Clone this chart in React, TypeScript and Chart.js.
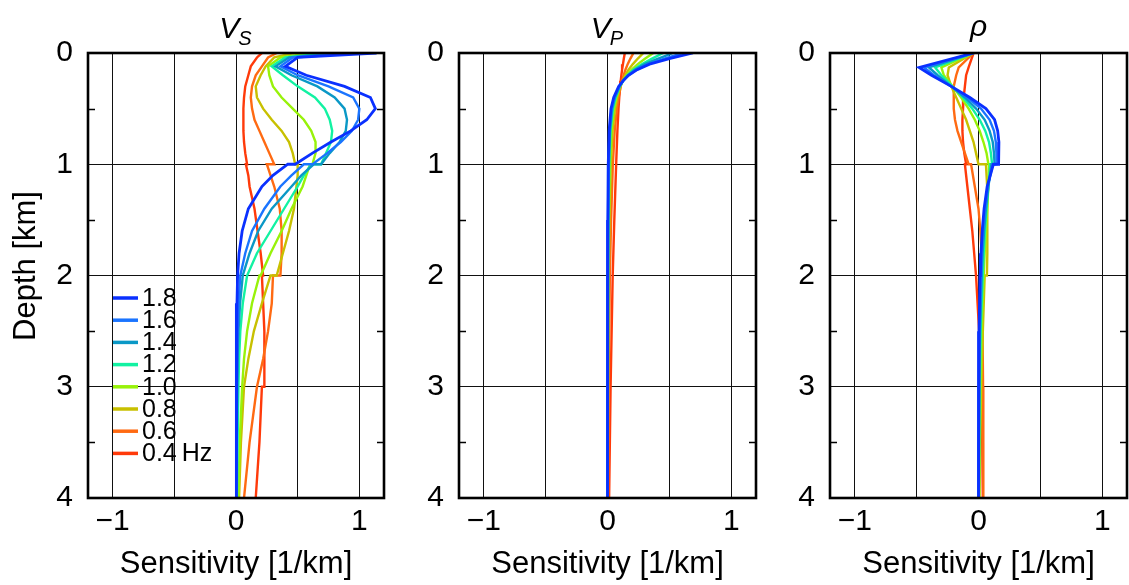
import React, { useEffect, useRef } from 'react';
import { Chart, registerables } from 'chart.js';

Chart.register(...registerables);

const FONT = "'Liberation Sans', Arial, Helvetica, sans-serif";

// ---- legend / series meta ----
const freqLabels = ['1.8', '1.6', '1.4', '1.2', '1.0', '0.8', '0.6', '0.4\u2009Hz'];
const freqColors = ['#0a30ff', '#1a74ff', '#0a98c6', '#12f2a2', '#98f20a', '#c8c000', '#ff6a12', '#ff3a0a'];

// ---- tick values / labels ----
const xTickValues = [-1, -0.5, 0, 0.5, 1];
const xTickLabels = ['\u22121', '', '0', '', '1'];
const yTickValues = [0, 0.5, 1, 1.5, 2, 2.5, 3, 3.5, 4];
const yTickLabels = ['0', '', '1', '', '2', '', '3', '', '4'];

// ---- V_S kernels ----
const vsDepth = [0, 0.04, 0.12, 0.2, 0.3, 0.4, 0.5, 0.6, 0.7, 0.8, 0.9, 1.0, 1.0, 1.1, 1.2, 1.4, 1.6, 1.8, 2.0, 2.0, 2.25, 2.5, 2.75, 3.0, 3.0, 3.5, 4.0];
const vs18 = [1.14, 0.5, 0.4, 0.57, 0.88, 1.09, 1.13, 1.06, 0.93, 0.77, 0.62, 0.48, 0.42, 0.3, 0.21, 0.1, 0.05, 0.025, 0.013, 0.012, 0.008, 0.005, 0.004, 0.003, 0.003, 0.002, 0.001];
const vs16 = [1.0, 0.46, 0.36, 0.5, 0.75, 0.95, 1.0, 0.99, 0.94, 0.85, 0.74, 0.62, 0.55, 0.45, 0.36, 0.23, 0.13, 0.075, 0.035, 0.035, 0.02, 0.012, 0.008, 0.006, 0.006, 0.004, 0.003];
const vs14 = [0.87, 0.43, 0.32, 0.45, 0.66, 0.8, 0.88, 0.9, 0.89, 0.84, 0.76, 0.69, 0.63, 0.53, 0.45, 0.29, 0.18, 0.11, 0.055, 0.055, 0.033, 0.02, 0.013, 0.009, 0.009, 0.006, 0.004];
const vs12 = [0.74, 0.4, 0.29, 0.38, 0.5, 0.64, 0.72, 0.76, 0.78, 0.77, 0.73, 0.69, 0.61, 0.55, 0.5, 0.39, 0.28, 0.17, 0.09, 0.09, 0.055, 0.035, 0.025, 0.02, 0.02, 0.013, 0.008];
const vs10 = [0.61, 0.36, 0.26, 0.27, 0.3, 0.37, 0.46, 0.55, 0.61, 0.645, 0.645, 0.62, 0.6, 0.57, 0.54, 0.45, 0.37, 0.28, 0.2, 0.19, 0.13, 0.09, 0.065, 0.05, 0.05, 0.03, 0.02];
const vs08 = [0.47, 0.31, 0.24, 0.2, 0.16, 0.17, 0.22, 0.29, 0.37, 0.43, 0.46, 0.48, 0.5, 0.5, 0.49, 0.47, 0.43, 0.38, 0.33, 0.28, 0.21, 0.145, 0.1, 0.065, 0.065, 0.04, 0.025];
const vs06 = [0.33, 0.26, 0.21, 0.16, 0.13, 0.12, 0.13, 0.15, 0.19, 0.23, 0.27, 0.31, 0.25, 0.28, 0.31, 0.355, 0.37, 0.37, 0.36, 0.3, 0.29, 0.26, 0.22, 0.17, 0.17, 0.11, 0.065];
const vs04 = [0.21, 0.17, 0.12, 0.1, 0.075, 0.065, 0.06, 0.06, 0.06, 0.065, 0.075, 0.09, 0.08, 0.1, 0.11, 0.15, 0.175, 0.2, 0.22, 0.21, 0.22, 0.23, 0.23, 0.23, 0.21, 0.19, 0.16];

// ---- V_P kernels ----
const vpDepth = [0, 0.05, 0.1, 0.15, 0.2, 0.25, 0.3, 0.4, 0.5, 0.7, 1.0, 1.5, 2.0, 3.0, 4.0];
const vp18 = [0.69, 0.5, 0.34, 0.24, 0.17, 0.125, 0.09, 0.05, 0.028, 0.013, 0.006, 0.003, 0.001, 0, 0];
const vp16 = [0.61, 0.46, 0.33, 0.235, 0.17, 0.127, 0.095, 0.055, 0.033, 0.016, 0.008, 0.004, 0.002, 0.001, 0];
const vp14 = [0.53, 0.41, 0.3, 0.22, 0.165, 0.127, 0.098, 0.06, 0.038, 0.02, 0.011, 0.005, 0.003, 0.001, 0];
const vp12 = [0.45, 0.36, 0.28, 0.21, 0.16, 0.126, 0.1, 0.066, 0.044, 0.024, 0.014, 0.007, 0.004, 0.002, 0.001];
const vp10 = [0.37, 0.305, 0.245, 0.195, 0.155, 0.125, 0.1, 0.071, 0.051, 0.031, 0.019, 0.01, 0.006, 0.003, 0.001];
const vp08 = [0.29, 0.245, 0.205, 0.17, 0.143, 0.122, 0.104, 0.079, 0.061, 0.041, 0.027, 0.016, 0.01, 0.005, 0.002];
const vp06 = [0.21, 0.185, 0.163, 0.145, 0.13, 0.118, 0.107, 0.089, 0.076, 0.058, 0.043, 0.029, 0.019, 0.01, 0.005];
const vp04 = [0.14, 0.132, 0.125, 0.118, 0.112, 0.107, 0.103, 0.095, 0.089, 0.08, 0.07, 0.055, 0.042, 0.025, 0.013];

// ---- rho kernels ----
const rhoDepth = [0, 0.13, 0.2, 0.3, 0.4, 0.5, 0.6, 0.7, 0.8, 0.9, 1.0, 1.0, 1.2, 1.4, 1.6, 1.8, 2.0, 2.0, 2.5, 3.0, 3.5, 4.0];
const rho18 = [-0.04, -0.48, -0.38, -0.22, -0.07, 0.06, 0.13, 0.155, 0.165, 0.165, 0.16, 0.12, 0.07, 0.045, 0.03, 0.02, 0.015, 0.012, 0.004, 0.0, 0.0, 0.0];
const rho16 = [-0.04, -0.44, -0.36, -0.22, -0.09, 0.02, 0.09, 0.125, 0.14, 0.145, 0.145, 0.115, 0.075, 0.05, 0.035, 0.025, 0.02, 0.017, 0.008, 0.003, 0.001, 0.0];
const rho14 = [-0.04, -0.4, -0.33, -0.22, -0.11, -0.02, 0.05, 0.09, 0.115, 0.125, 0.13, 0.105, 0.08, 0.06, 0.045, 0.033, 0.026, 0.022, 0.012, 0.006, 0.003, 0.001];
const rho12 = [-0.04, -0.35, -0.3, -0.21, -0.125, -0.05, 0.01, 0.055, 0.085, 0.1, 0.11, 0.095, 0.08, 0.065, 0.052, 0.042, 0.034, 0.03, 0.017, 0.01, 0.006, 0.003];
const rho10 = [-0.04, -0.3, -0.28, -0.21, -0.14, -0.08, -0.03, 0.01, 0.04, 0.065, 0.08, 0.085, 0.08, 0.07, 0.06, 0.05, 0.042, 0.038, 0.024, 0.015, 0.009, 0.005];
const rho08 = [-0.04, -0.24, -0.25, -0.22, -0.18, -0.14, -0.1, -0.07, -0.04, -0.02, 0.0, 0.06, 0.07, 0.072, 0.072, 0.07, 0.068, 0.05, 0.035, 0.022, 0.014, 0.008];
const rho06 = [-0.04, -0.16, -0.18, -0.2, -0.2, -0.2, -0.19, -0.17, -0.14, -0.11, -0.08, -0.06, -0.03, 0.0, 0.015, 0.025, 0.03, 0.03, 0.035, 0.037, 0.038, 0.04];
const rho04 = [-0.04, -0.08, -0.1, -0.11, -0.12, -0.125, -0.13, -0.13, -0.125, -0.115, -0.1, -0.11, -0.09, -0.07, -0.05, -0.035, -0.02, -0.015, 0.005, 0.02, 0.03, 0.035];

const xTitle = 'Sensitivity [1/km]';
const yTitle = 'Depth [km]';

type PanelSpec = {
  key: string;
  left: number;
  width: number;
  yAxisWidth: number;
  padRight: number;
  title: [string, string];
  depth: number[];
  series: number[][];
  first: boolean;
};

const panels: PanelSpec[] = [
  { key: 'vs', left: 0, width: 410, yAxisWidth: 88, padRight: 26, title: ['V', 'S'], depth: vsDepth, series: [vs18, vs16, vs14, vs12, vs10, vs08, vs06, vs04], first: true },
  { key: 'vp', left: 410, width: 370, yAxisWidth: 49, padRight: 24, title: ['V', 'P'], depth: vpDepth, series: [vp18, vp16, vp14, vp12, vp10, vp08, vp06, vp04], first: false },
  { key: 'rho', left: 780, width: 349, yAxisWidth: 50, padRight: 2, title: ['\u03C1', ''], depth: rhoDepth, series: [rho18, rho16, rho14, rho12, rho10, rho08, rho06, rho04], first: false },
];

const isInt = (v: number) => Math.abs(v - Math.round(v)) < 1e-6;

function Panel({ spec }: { spec: PanelSpec }) {
  const ref = useRef<HTMLCanvasElement | null>(null);
  useEffect(() => {
    const canvas = ref.current;
    if (!canvas) return;
    const decor = {
      id: 'decor_' + spec.key,
      afterDraw(chart: any) {
        const ctx = chart.ctx as CanvasRenderingContext2D;
        const { left, right, top, bottom } = chart.chartArea;
        const yS = chart.scales.y;
        ctx.save();
        // minor inward ticks
        ctx.strokeStyle = '#000';
        ctx.lineWidth = 1.5;
        yTickValues.filter((d) => !isInt(d)).forEach((d) => {
          const py = Math.round(yS.getPixelForValue(d)) + 0.5;
          ctx.beginPath();
          ctx.moveTo(left, py);
          ctx.lineTo(left + 7, py);
          ctx.moveTo(right - 7, py);
          ctx.lineTo(right, py);
          ctx.stroke();
        });
        // frame
        ctx.lineWidth = 2.6;
        ctx.strokeRect(left, top, right - left, bottom - top);
        // title
        const cx = (left + right) / 2;
        ctx.fillStyle = '#000';
        ctx.textBaseline = 'alphabetic';
        ctx.textAlign = 'left';
        ctx.font = `italic 30px ${FONT}`;
        const main = spec.title[0];
        const sub = spec.title[1];
        const mw = ctx.measureText(main).width;
        ctx.font = `italic 20px ${FONT}`;
        const sw = sub ? ctx.measureText(sub).width : 0;
        const tw = mw + sw;
        ctx.font = `italic 30px ${FONT}`;
        ctx.fillText(main, cx - tw / 2, sub ? 38 : 36);
        if (sub) {
          ctx.font = `italic 20px ${FONT}`;
          ctx.fillText(sub, cx - tw / 2 + mw - 1, 45);
        }
        // x title
        ctx.font = `31px ${FONT}`;
        ctx.textAlign = 'center';
        ctx.textBaseline = 'middle';
        ctx.fillText(xTitle, cx, 564);
        if (spec.first) {
          ctx.save();
          ctx.translate(26, 266);
          ctx.rotate(-Math.PI / 2);
          ctx.fillText(yTitle, 0, 0);
          ctx.restore();
          // legend
          ctx.textAlign = 'left';
          ctx.font = `25px ${FONT}`;
          freqLabels.forEach((lab, i) => {
            const ly = 298 + i * 22.2;
            ctx.strokeStyle = freqColors[i];
            ctx.lineWidth = 3.5;
            ctx.beginPath();
            ctx.moveTo(left + 25, ly);
            ctx.lineTo(left + 50, ly);
            ctx.stroke();
            ctx.fillStyle = '#000';
            ctx.fillText(lab, left + 54, ly + 1);
          });
        }
        ctx.restore();
      },
    };

    const datasets = spec.series.map((vals, i) => ({
      label: freqLabels[i],
      data: vals.map((v, j) => ({ x: v, y: spec.depth[j] })),
      borderColor: freqColors[i],
      backgroundColor: freqColors[i],
      borderWidth: i === 0 ? 2.8 : 2.4,
      pointRadius: 0,
      showLine: true,
      tension: 0,
      fill: false,
    }));

    const chart = new Chart(canvas, {
      type: 'scatter',
      data: { datasets },
      options: {
        animation: false,
        responsive: false,
        devicePixelRatio: 1,
        layout: { padding: { top: 53, right: spec.padRight, bottom: 0, left: 0 } },
        plugins: { legend: { display: false }, title: { display: false }, tooltip: { enabled: false } },
        scales: {
          x: {
            type: 'linear',
            min: -1.2,
            max: 1.2,
            afterFit: (s: any) => { s.height = 87; },
            afterBuildTicks: (s: any) => { s.ticks = xTickValues.map((v) => ({ value: v })); },
            ticks: {
              autoSkip: false,
              maxRotation: 0,
              minRotation: 0,
              padding: 6,
              color: '#000',
              font: { family: FONT, size: 30 },
              callback: (v: any) => {
                const idx = xTickValues.findIndex((t) => Math.abs(t - Number(v)) < 1e-6);
                return idx >= 0 ? xTickLabels[idx] : '';
              },
            },
            grid: {
              drawTicks: false,
              color: '#111',
              lineWidth: 1,
            },
            border: { display: false },
          },
          y: {
            type: 'linear',
            min: 0,
            max: 4,
            reverse: true,
            afterFit: (s: any) => { s.width = spec.yAxisWidth; },
            afterBuildTicks: (s: any) => { s.ticks = yTickValues.map((v) => ({ value: v })); },
            ticks: {
              autoSkip: false,
              padding: 15,
              color: '#000',
              font: { family: FONT, size: 30 },
              callback: (v: any) => {
                const idx = yTickValues.findIndex((t) => Math.abs(t - Number(v)) < 1e-6);
                return idx >= 0 ? yTickLabels[idx] : '';
              },
            },
            grid: {
              drawTicks: false,
              color: (c: any) => (c.tick && isInt(c.tick.value) ? '#111' : 'rgba(0,0,0,0)'),
              lineWidth: 1,
            },
            border: { display: false },
          },
        },
      } as any,
      plugins: [decor],
    });
    return () => chart.destroy();
  }, [spec]);

  return (
    <canvas
      ref={ref}
      width={spec.width}
      height={585}
      style={{ position: 'absolute', left: spec.left, top: 0, width: spec.width, height: 585 }}
    />
  );
}

export default function App() {
  return (
    <div style={{ position: 'absolute', left: 0, top: 0, width: 1129, height: 585, background: '#fff', overflow: 'hidden' }}>
      {panels.map((p) => (
        <Panel key={p.key} spec={p} />
      ))}
    </div>
  );
}
